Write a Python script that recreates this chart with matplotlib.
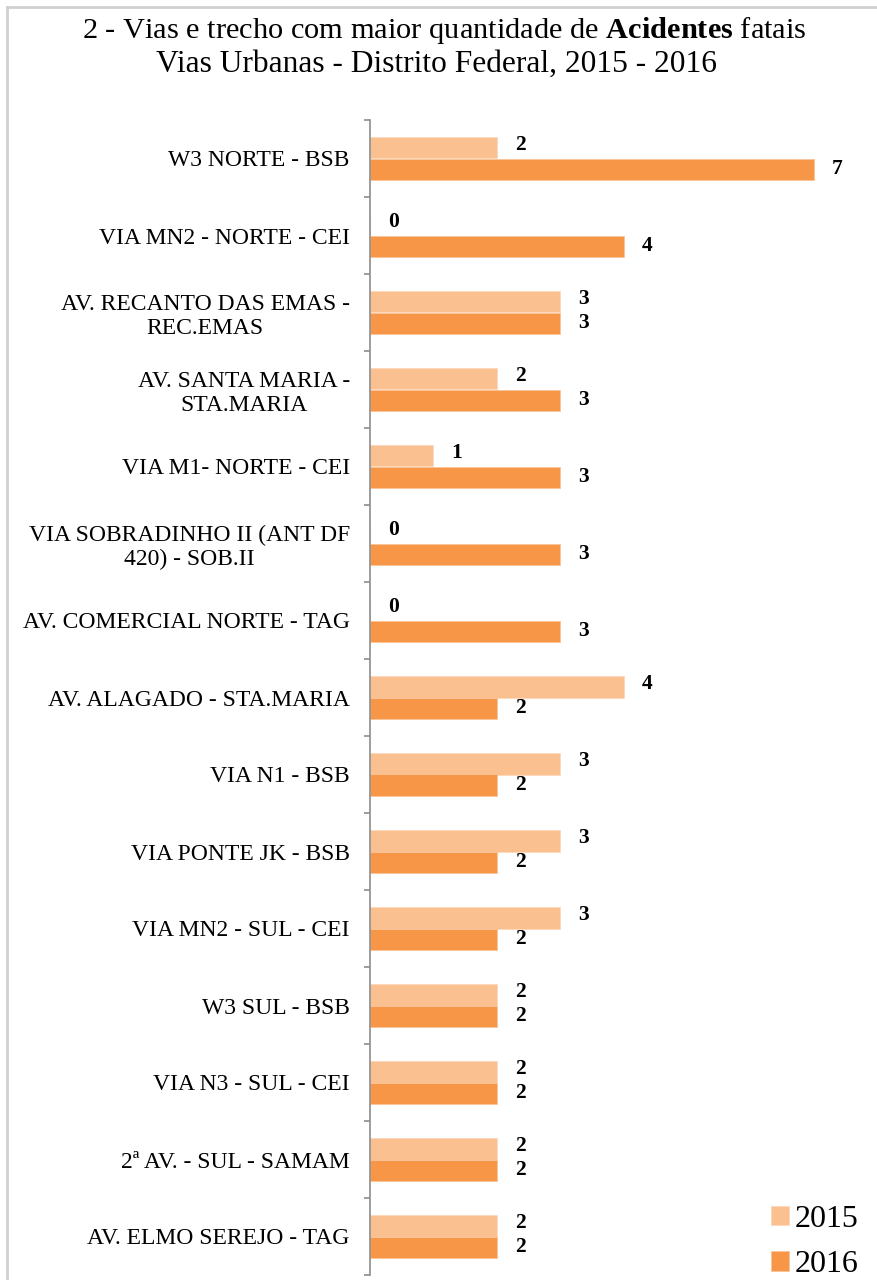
import numpy as np
import matplotlib
matplotlib.use("Agg")
import matplotlib.pyplot as plt
from matplotlib.lines import Line2D

plt.rcParams['font.family'] = ['Liberation Serif', 'DejaVu Serif']
plt.rcParams['mathtext.fontset'] = 'custom'
plt.rcParams['mathtext.rm'] = 'Liberation Serif'
plt.rcParams['mathtext.bf'] = 'Liberation Serif:bold'

# --- Dados ---
vias = [
    "W3 NORTE - BSB",
    "VIA MN2 - NORTE - CEI",
    "AV. RECANTO DAS EMAS -\nREC.EMAS",
    "AV. SANTA MARIA -\nSTA.MARIA",
    "VIA M1- NORTE - CEI",
    "VIA SOBRADINHO II (ANT DF\n420) - SOB.II",
    "AV. COMERCIAL NORTE - TAG",
    "AV. ALAGADO - STA.MARIA",
    "VIA N1 - BSB",
    "VIA PONTE JK - BSB",
    "VIA MN2 - SUL - CEI",
    "W3 SUL - BSB",
    "VIA N3 - SUL - CEI",
    "2ª AV. - SUL - SAMAM",
    "AV. ELMO SEREJO - TAG",
]
acid_2015 = [2, 0, 3, 2, 1, 0, 0, 4, 3, 3, 3, 2, 2, 2, 2]
acid_2016 = [7, 4, 3, 3, 3, 3, 3, 2, 2, 2, 2, 2, 2, 2, 2]
anos = ["2015", "2016"]

COR_2015 = '#FAC090'
COR_2016 = '#F79646'

W, H = 877, 1280
fig = plt.figure(figsize=(W / 100, H / 100), dpi=100)

# eixo: x=370px ate 877px, y=120px ate 1275px
ax = fig.add_axes([370 / W, 1 - 1275 / H, 507 / W, 1155 / H])

y = np.arange(len(vias))
h = 0.2857
b1 = ax.barh(y - h / 2, acid_2015, height=h, color=COR_2015, label=anos[0],
             edgecolor='#FCD9BC', linewidth=0.6)
b2 = ax.barh(y + h / 2, acid_2016, height=h, color=COR_2016, label=anos[1],
             edgecolor='#FAC39A', linewidth=0.6)

for yi, v in zip(y - h / 2, acid_2015):
    ax.annotate(str(v), (v, yi), xytext=(17, 2), textcoords='offset points',
                ha='center', va='center', fontsize=15.5, fontweight='bold')
for yi, v in zip(y + h / 2, acid_2016):
    ax.annotate(str(v), (v, yi), xytext=(17, 0), textcoords='offset points',
                ha='center', va='center', fontsize=15.5, fontweight='bold')

ax.set_xlim(0, 8)
ax.set_ylim(len(vias) - 0.5, -0.5)

# ticks nas divisoes das categorias, rotulos no centro
ax.set_yticks(np.arange(-0.5, len(vias), 1.0))
ax.set_yticklabels([])
ax.set_yticks(y, minor=True)
ax.set_yticklabels(vias, minor=True, fontsize=17, multialignment='center')
ax.tick_params(axis='y', which='major', length=4, width=1.2, color='#8C8C8C', direction='out')
ax.tick_params(axis='y', which='minor', length=0, pad=14.5)
ax.set_xticks([])

for s in ['top', 'right', 'bottom']:
    ax.spines[s].set_visible(False)
ax.spines['left'].set_color('#8C8C8C')
ax.spines['left'].set_linewidth(1.2)

# titulo
fig.text(444 / W, 1 - 31 / H,
         r"2 - Vias e trecho com maior quantidade de $\mathbf{Acidentes}$ fatais",
         ha='center', va='center', fontsize=21.9)
fig.text(437 / W, 1 - 64 / H, "Vias Urbanas - Distrito Federal, 2015 - 2016",
         ha='center', va='center', fontsize=22.7)

fig.legend(handles=[b1, b2], labels=anos, loc='center left',
           bbox_to_anchor=(771 / W, 1 - 1242 / H), frameon=False,
           fontsize=23, handlelength=0.55, handleheight=0.55,
           handletextpad=0.2, labelspacing=0.52, borderpad=0, borderaxespad=0)

# borda cinza (topo e esquerda)
fig.add_artist(Line2D([7 / W, 1], [1 - 7 / H, 1 - 7 / H], color='#D0D0D0', lw=2))
fig.add_artist(Line2D([7 / W, 7 / W], [0, 1 - 7 / H], color='#D0D0D0', lw=2))

fig.savefig('out.png', dpi=100)
